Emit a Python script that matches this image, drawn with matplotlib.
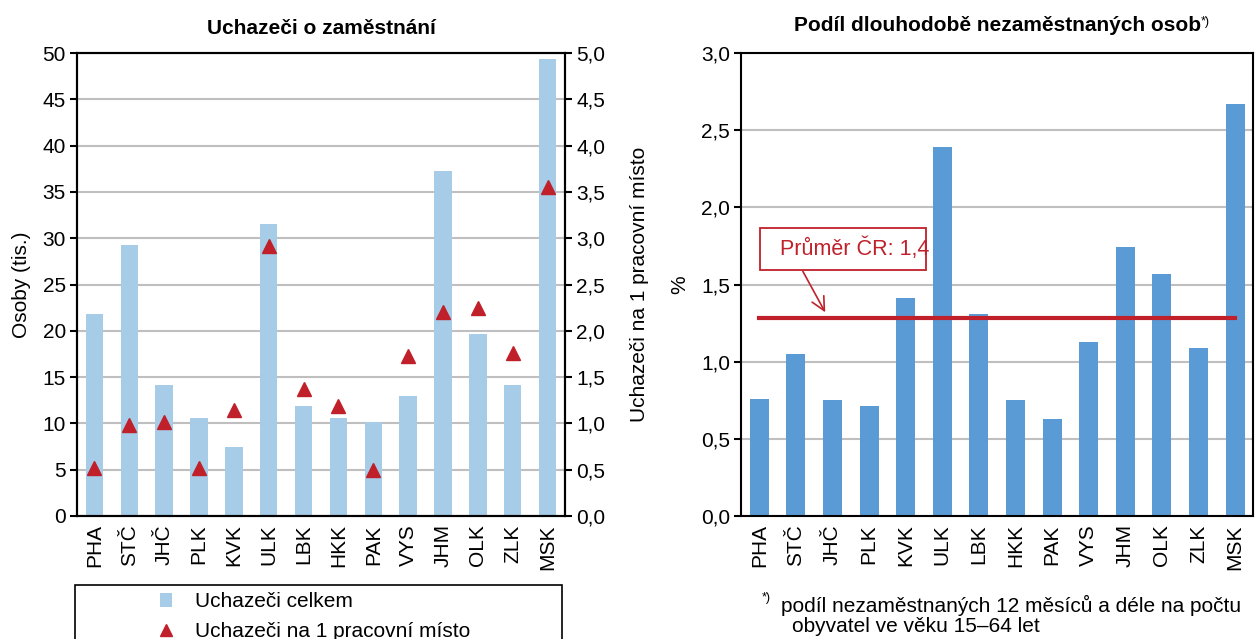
import matplotlib
matplotlib.use("Agg")
import matplotlib.pyplot as plt
from matplotlib.patches import Rectangle, Patch
from matplotlib.lines import Line2D
import numpy as np

plt.rcParams['font.family'] = ['Liberation Sans', 'DejaVu Sans']

# ----------------- Data -----------------
regions = ['PHA', 'STČ', 'JHČ', 'PLK', 'KVK', 'ULK', 'LBK', 'HKK', 'PAK', 'VYS', 'JHM', 'OLK', 'ZLK', 'MSK']
uchazeci_celkem = [21.8, 29.3, 14.2, 10.6, 7.5, 31.5, 11.9, 10.6, 10.1, 13.0, 37.3, 19.7, 14.1, 49.4]
uchazeci_na_misto = [0.52, 0.98, 1.02, 0.52, 1.15, 2.92, 1.37, 1.19, 0.50, 1.73, 2.20, 2.25, 1.76, 3.55]
podil_dlouhodobe = [0.76, 1.05, 0.75, 0.71, 1.41, 2.39, 1.31, 0.75, 0.63, 1.13, 1.74, 1.57, 1.09, 2.67]
prumer_cr = 1.28
prumer_label = 'Průměr ČR: 1,4'

light_blue = '#A6CCE8'
dark_red = '#C0202A'
mid_blue = '#5B9BD5'
grid_col = '#BFBFBF'
FS = 15

x = np.arange(len(regions))


def comma(vals):
    return [f'{v:.1f}'.replace('.', ',') for v in vals]


fig = plt.figure(figsize=(12.56, 6.39), dpi=100)

# ----------------- Left chart -----------------
ax1 = fig.add_axes([0.0613, 0.1925, 0.3885, 0.7245])
ax1.bar(x, uchazeci_celkem, width=0.5, color=light_blue, zorder=2)
ax1.set_ylim(0, 50)
ax1.set_yticks(np.arange(0, 51, 5))
ax1.set_xlim(-0.5, len(regions) - 0.5)
ax1.set_xticks(x)
ax1.set_xticklabels(regions, rotation=90, fontsize=FS)
ax1.tick_params(axis='x', length=0, pad=6)
ax1.tick_params(axis='y', labelsize=FS, direction='out', length=5, width=1.5, pad=3)
ax1.yaxis.grid(True, color=grid_col, lw=1.5, zorder=0)
ax1.set_axisbelow(True)
ax1.set_ylabel('Osoby (tis.)', fontsize=FS, labelpad=8)
for s in ax1.spines.values():
    s.set_linewidth(1.5)
ax1.set_title('Uchazeči o zaměstnání', fontsize=FS, fontweight='bold', pad=14)

ax1r = ax1.twinx()
ax1r.plot(x, uchazeci_na_misto, linestyle='none', marker='^', markersize=10,
          color=dark_red, zorder=3)
ax1r.set_ylim(0, 5)
ax1r.set_yticks(np.arange(0, 5.01, 0.5))
ax1r.set_yticklabels(comma(np.arange(0, 5.01, 0.5)))
ax1r.tick_params(axis='y', labelsize=FS, direction='out', length=5, width=1.5, pad=3)
ax1r.set_ylabel('Uchazeči na 1 pracovní místo', fontsize=FS, labelpad=18)
for s in ax1r.spines.values():
    s.set_linewidth(1.5)

# legend box (cut by the figure edge like the original)
fig.patches.append(Rectangle((75 / 1256, -0.05), 487 / 1256, 0.05 + 54 / 639,
                             transform=fig.transFigure, fill=False,
                             edgecolor='black', lw=1.2))
handles = [Patch(facecolor=light_blue, edgecolor='none'),
           Line2D([], [], linestyle='none', marker='^', markersize=8, color=dark_red)]
fig.legend(handles, ['Uchazeči celkem', 'Uchazeči na 1 pracovní místo'],
           loc='upper left', bbox_to_anchor=(152 / 1256, 55 / 639),
           frameon=False, fontsize=FS, handlelength=0.55, handleheight=0.6,
           handletextpad=1.1, labelspacing=0.5, borderaxespad=0)

# ----------------- Right chart -----------------
ax2 = fig.add_axes([0.59, 0.1925, 0.408, 0.7245])
ax2.bar(x, podil_dlouhodobe, width=0.52, color=mid_blue, zorder=2)
ax2.plot([x[0], x[-1]], [prumer_cr, prumer_cr], color=dark_red, lw=3, zorder=3)
ax2.set_ylim(0, 3)
ax2.set_yticks(np.arange(0, 3.01, 0.5))
ax2.set_yticklabels(comma(np.arange(0, 3.01, 0.5)))
ax2.set_xlim(-0.5, len(regions) - 0.5)
ax2.set_xticks(x)
ax2.set_xticklabels(regions, rotation=90, fontsize=FS)
ax2.tick_params(axis='x', length=0, pad=6)
ax2.tick_params(axis='y', labelsize=FS, direction='out', length=5, width=1.5, pad=3)
ax2.yaxis.grid(True, color=grid_col, lw=1.5, zorder=0)
ax2.set_axisbelow(True)
ax2.set_ylabel('%', fontsize=FS, labelpad=8)
for s in ax2.spines.values():
    s.set_linewidth(1.5)
t2 = ax2.set_title('Podíl dlouhodobě nezaměstnaných osob', fontsize=FS,
                   fontweight='bold', pad=16)
ax2.annotate('*)', xy=(1, 1), xycoords=t2, fontsize=9, va='top', ha='left')

# average label box and arrow
ax2.add_patch(Rectangle((0.02, 1.594), 4.53, 0.272, facecolor='white',
                        edgecolor=dark_red, lw=1.3, zorder=4))
ax2.text(0.57, 1.73, prumer_label, fontsize=FS + 0.5, color=dark_red,
         ha='left', va='center', zorder=5)
ax2.annotate('', xy=(1.8, 1.32), xytext=(1.19, 1.585),
             arrowprops=dict(arrowstyle='->', color=dark_red, lw=1.2, mutation_scale=24,
                             shrinkA=0, shrinkB=0),
             zorder=4)

fig.text(762 / 1256, 1 - 598 / 639, '*)', fontsize=9, va='center')
fig.text(781 / 1256, 1 - 605 / 639, 'podíl nezaměstnaných 12 měsíců a déle na počtu',
         fontsize=FS, va='center')
fig.text(792 / 1256, 1 - 627 / 639, 'obyvatel ve věku 15–64 let', fontsize=FS, va='center')

fig.savefig('out.png', dpi=100)
